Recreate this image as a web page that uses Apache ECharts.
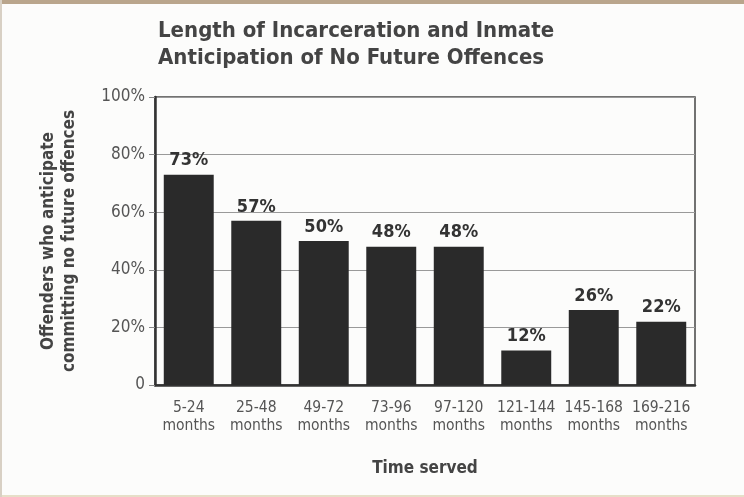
<!DOCTYPE html>
<html><head><meta charset="utf-8">
<script src="https://cdn.jsdelivr.net/npm/echarts@6/dist/echarts.min.js"></script>
<style>
html,body{margin:0;padding:0;background:#fff;}
#c{width:744px;height:497px;background:#fcfcfb;box-shadow:inset 2px 0 0 #d8d0c4, inset 0 4px 0 #b9a58c, inset 0 -2px 0 #e6dfc8;}
</style></head>
<body><div id="c"></div>
<script>
const categories = ['5-24\nmonths','25-48\nmonths','49-72\nmonths','73-96\nmonths','97-120\nmonths','121-144\nmonths','145-168\nmonths','169-216\nmonths'];
const values = [73, 57, 50, 48, 48, 12, 26, 22];
const yTicks = [0, 20, 40, 60, 80, 100];
const FONT = '"Liberation Sans Narrow","DejaVu Sans Condensed","Roboto Condensed",sans-serif';
const chart = echarts.init(document.getElementById('c'), null, {renderer:'canvas'});
chart.setOption({
  backgroundColor:'transparent',
  title:{
    text:'Length of Incarceration and Inmate\nAnticipation of No Future Offences',
    left:153, top:13,
    textStyle:{fontFamily:FONT, fontSize:22, fontWeight:'bold', color:'#444', lineHeight:27}
  },
  grid:{left:155, right:49, top:97, bottom:112, show:true, borderColor:'#444', borderWidth:1.5},
  xAxis:{
    type:'category', data:categories,
    name:'Time served', nameLocation:'middle', nameGap:75,
    nameTextStyle:{fontFamily:FONT, fontSize:17, fontWeight:'bold', color:'#444'},
    axisLine:{lineStyle:{color:'#333', width:2.5}},
    axisTick:{show:false},
    axisLabel:{fontFamily:FONT, fontSize:15.5, color:'#555', lineHeight:18, margin:14, interval:0}
  },
  yAxis:{
    type:'value', min:0, max:100, interval:20,
    name:'Offenders who anticipate\ncommitting no future offences', nameLocation:'middle', nameGap:75,
    nameTextStyle:{fontFamily:FONT, fontSize:17, fontWeight:'bold', color:'#444', lineHeight:21},
    axisLine:{show:true, lineStyle:{color:'#333', width:2.5}},
    axisTick:{show:true, length:6, lineStyle:{color:'#888'}},
    splitLine:{lineStyle:{color:'#999', width:1}},
    axisLabel:{fontFamily:FONT, fontSize:17, color:'#555', margin:10,
      formatter:v => yTicks.includes(v) ? (v===0 ? '0' : v + '%') : ''}
  },
  series:[{
    type:'bar', data:values, barWidth:'74%',
    itemStyle:{color:'#2a2a2a'},
    label:{show:true, position:'top', distance:5, formatter:'{c}%',
      fontFamily:FONT, fontSize:18, fontWeight:'bold', color:'#333'}
  }]
});
</script></body></html>
